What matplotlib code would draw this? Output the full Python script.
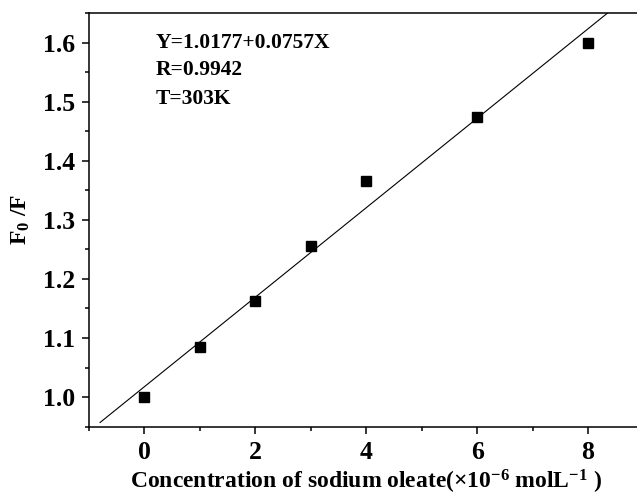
import matplotlib
matplotlib.use("Agg")
import matplotlib.pyplot as plt
import numpy as np
from matplotlib.ticker import MultipleLocator, FormatStrFormatter

plt.rcParams['font.family'] = ['Liberation Serif', 'DejaVu Serif']
plt.rcParams['font.weight'] = 'bold'
plt.rcParams['axes.labelweight'] = 'bold'
plt.rcParams['mathtext.fontset'] = 'custom'
plt.rcParams['mathtext.rm'] = 'Liberation Serif:bold'
plt.rcParams['mathtext.bf'] = 'Liberation Serif:bold'
plt.rcParams['mathtext.it'] = 'Liberation Serif:bold'

# Stern-Volmer data, T = 303 K
conc = [0, 1, 2, 3, 4, 6, 8]
f0_f = [1.000, 1.085, 1.163, 1.256, 1.366, 1.474, 1.599]
intercept = 1.0177
slope = 0.0757
r_value = 0.9942

fig = plt.figure(figsize=(6.37, 4.98), dpi=100)
ax = fig.add_axes([0.1397, 0.1432, 1.0102 - 0.1397, 0.9739 - 0.1432])

xfit = np.linspace(-0.8, 9, 50)
ax.plot(xfit, intercept + slope * xfit, color='black', lw=0.8)
ax.plot(conc, f0_f, 's', color='black', ms=6.5)

ax.set_xlim(-1, 9)
ax.set_ylim(0.95, 1.65)
ax.xaxis.set_major_locator(MultipleLocator(2))
ax.xaxis.set_minor_locator(MultipleLocator(1))
ax.yaxis.set_major_locator(MultipleLocator(0.1))
ax.yaxis.set_minor_locator(MultipleLocator(0.05))
ax.yaxis.set_major_formatter(FormatStrFormatter('%.1f'))
ax.tick_params(which='major', direction='out', length=5, width=1.1, labelsize=18.5, pad=5)
ax.tick_params(which='minor', direction='out', length=3, width=1.1)
for s in ax.spines.values():
    s.set_linewidth(1.1)

ax.text(0.21, 1.6, 'Y=%.4f+%.4fX' % (intercept, slope), fontsize=15.5, va='center')
ax.text(0.21, 1.553, 'R=%.4f' % r_value, fontsize=15.5, va='center')
ax.text(0.21, 1.504, 'T=303K', fontsize=15.5, va='center')

ax.set_xlabel(r'Concentration of sodium oleate($\times$10$^{\mathbf{-6}}$ molL$^{\mathbf{-1}}$ )',
              fontsize=17, labelpad=3)
ax.set_ylabel(r'F$_{\mathbf{0}}$ /F', fontsize=17, labelpad=8)

fig.savefig('out.png', dpi=100)
